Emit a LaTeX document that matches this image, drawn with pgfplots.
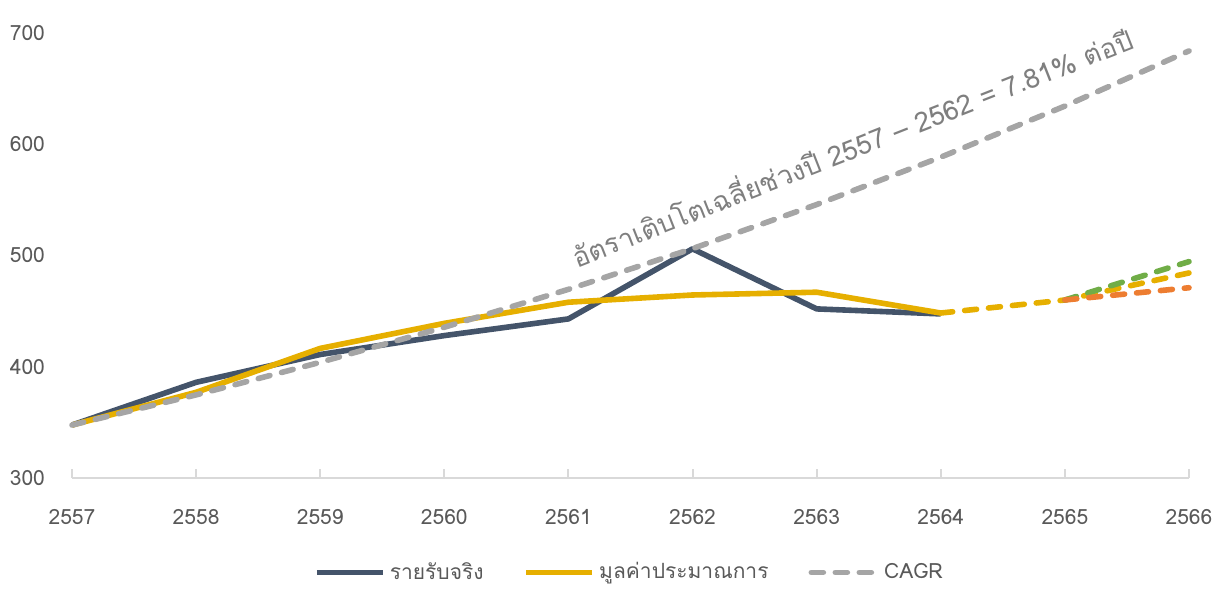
\documentclass[border=0pt]{standalone}
\usepackage{fontspec}
\setmainfont[Script=Thai]{Loma}
\usepackage{pgfplots}
\pgfplotsset{compat=1.18}

\definecolor{actual}{HTML}{44546A}
\definecolor{gold}{HTML}{E6AF00}
\definecolor{cagr}{HTML}{A5A5A5}
\definecolor{fgreen}{HTML}{70AD47}
\definecolor{forange}{HTML}{ED7D31}
\definecolor{axisgray}{HTML}{D9D9D9}
\definecolor{textgray}{HTML}{595959}
\definecolor{annogray}{HTML}{7F7F7F}

\begin{document}
\begin{tikzpicture}
\begin{axis}[
    at={(36pt,55pt)}, anchor=south west,
    scale only axis,
    width=558.5pt, height=222.5pt,
    xmin=2557, xmax=2566,
    ymin=300, ymax=700,
    xtick={2557,2558,...,2566},
    ytick={300,400,...,700},
    axis x line*=bottom,
    axis y line*=left,
    x axis line style={-, draw=axisgray, line width=1pt},
    y axis line style={draw=none},
    tick align=inside,
    major tick length=4.5pt,
    x tick style={draw=axisgray, line width=1pt},
    y tick style={draw=none},
    /pgf/number format/.cd, 1000 sep={}, assume math mode=true,
    /pgfplots/.cd,
    tick label style={font=\fontsize{10.5}{12}\selectfont, text=textgray},
    xticklabel style={yshift=-12pt},
    yticklabel style={xshift=-10pt},
    clip=false,
    legend style={at={(0.5,-0.212)}, anchor=center, legend columns=3,
        draw=none, fill=none, text=textgray,
        font=\fontsize{10.5}{12}\selectfont,
        /tikz/every even column/.append style={column sep=18pt}},
    legend cell align=left,
    legend image code/.code={\draw[#1] (0pt,0pt) -- (33pt,0pt);},
]
% actual revenue
\addplot[actual, line width=2.8pt, line join=round] coordinates {
    (2557,347.6) (2558,386) (2559,411) (2560,428) (2561,443)
    (2562,506) (2563,452) (2564,447.5)};
% estimate
\addplot[gold, line width=2.8pt, line join=round] coordinates {
    (2557,347.6) (2558,377) (2559,416.5) (2560,439) (2561,458)
    (2562,464.5) (2563,467) (2564,448.3)};
% CAGR 7.81%
\addplot[cagr, line width=2.8pt, line cap=round, dash pattern=on 6pt off 6pt] coordinates {
    (2557,347.6) (2558,374.7) (2559,404.0) (2560,435.5) (2561,469.6)
    (2562,506.2) (2563,545.8) (2564,588.4) (2565,634.3) (2566,683.9)};
\legend{รายรับจริง, มูลค่าประมาณการ, CAGR}
% forecasts
\addplot[gold, line width=2.8pt, line cap=round, dash pattern=on 6pt off 6pt, forget plot] coordinates {
    (2564,448.3) (2565,460) (2566,484.3)};
\addplot[fgreen, line width=2.8pt, line cap=round, dash pattern=on 6pt off 6pt, forget plot] coordinates {
    (2565,460) (2566,494.5)};
\addplot[forange, line width=2.8pt, line cap=round, dash pattern=on 6pt off 6pt, forget plot] coordinates {
    (2565,460) (2566,471)};
\node[rotate=21.5, text=annogray, font=\fontsize{13.6}{15}\selectfont]
    at (axis cs:2563.28,599) {อัตราเติบโตเฉลี่ยช่วงปี 2557 – 2562 = 7.81\% ต่อปี};
\end{axis}
\pgfresetboundingbox
\path[use as bounding box] (0,0) rectangle (606.5pt,294pt);
\end{tikzpicture}
\end{document}
